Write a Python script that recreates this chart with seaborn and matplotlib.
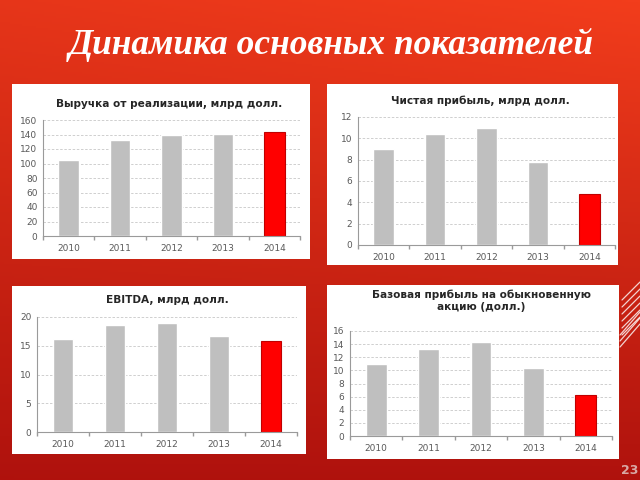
import numpy as np
import pandas as pd
import matplotlib
matplotlib.use("Agg")
import matplotlib.pyplot as plt
from matplotlib.patches import Rectangle
from matplotlib.lines import Line2D
import seaborn as sns

years = ["2010", "2011", "2012", "2013", "2014"]
revenue = [105, 133, 139, 141, 144]
net_profit = [9.0, 10.4, 11.0, 7.8, 4.75]
ebitda = [16.1, 18.6, 19.0, 16.7, 15.9]
eps = [10.9, 13.3, 14.4, 10.4, 6.3]

titles = ["Выручка от реализации, млрд долл.",
          "Чистая прибыль, млрд долл.",
          "EBITDA, млрд долл.",
          "Базовая прибыль на обыкновенную\nакцию (долл.)"]
slide_title = "Динамика основных показателей"
page_no = "23"

sns.set_theme(style="white")
plt.rcParams['font.family'] = ['DejaVu Sans']

W, H = 640, 480
fig = plt.figure(figsize=(6.4, 4.8), dpi=100)

# background gradient
bg = fig.add_axes([0, 0, 1, 1])
yy, xx = np.mgrid[0:1:240j, 0:1:320j]
t = np.clip(0.85 * yy + 0.15 * (1 - xx) * (1 - yy), 0, 1)
c0 = np.array([0.95, 0.24, 0.11])
c1 = np.array([0.64, 0.04, 0.04])
img = c0[None, None, :] * (1 - t[..., None]) + c1[None, None, :] * t[..., None]
bg.imshow(img, aspect="auto", extent=[0, 1, 0, 1], origin="upper")
bg.set_axis_off()

def fx(px):
    return px / W

def fy(py):
    return 1 - py / H

# white panels (x0, y0, x1, y1) in px
panels = [(12, 84, 310, 259), (327, 84, 618, 265), (12, 286, 306, 454), (327, 285, 619, 459)]
for x0, y0, x1, y1 in panels:
    fig.patches.append(Rectangle((fx(x0), fy(y1)), fx(x1 - x0), (y1 - y0) / H,
                                 transform=fig.transFigure, facecolor="white",
                                 edgecolor="none", zorder=1))

# axes rects: left, top, right, bottom in px
axes_px = [(43, 120, 300, 236), (358, 117, 615, 245), (37, 317, 297, 432), (350, 331, 612, 436)]
datasets = [revenue, net_profit, ebitda, eps]
ylims = [(0, 160, 20), (0, 12, 2), (0, 20, 5), (0, 16, 2)]
title_y = [104, 101, 300, 301]

for i, (vals, (l, t_, r, b)) in enumerate(zip(datasets, axes_px)):
    ax = fig.add_axes([fx(l), fy(b), fx(r - l), (b - t_) / H])
    ax.set_zorder(2)
    df = pd.DataFrame({"year": years, "value": vals})
    df["grp"] = ["hi" if y == "2014" else "base" for y in years]
    sns.barplot(data=df, x="year", y="value", hue="grp",
                palette={"base": "#bfbfbf", "hi": "#ff0000"},
                width=0.4, dodge=False, legend=False, ax=ax, saturation=1)
    for p in ax.patches:
        if p.get_facecolor()[1] < 0.1:
            p.set_edgecolor("#c00000")
            p.set_linewidth(0.8)
    lo, hi, st = ylims[i]
    ax.set_ylim(lo, hi)
    ax.set_yticks(np.arange(lo, hi + st / 2, st))
    ax.set_xlim(-0.5, 4.5)
    ax.set_xticks(np.arange(-0.5, 5, 1), minor=True)
    ax.yaxis.grid(True, color="#c8c8c8", linestyle=(0, (3, 2)), linewidth=0.6)
    ax.set_axisbelow(True)
    ax.set_facecolor("none")
    for s in ["top", "right"]:
        ax.spines[s].set_visible(False)
    for s in ["left", "bottom"]:
        ax.spines[s].set_color("#9a9a9a")
        ax.spines[s].set_linewidth(0.8)
    ax.tick_params(axis="both", labelsize=6.5, colors="#595959", length=0, pad=4)
    ax.tick_params(axis="x", pad=6)
    ax.tick_params(axis="x", which="minor", length=3, color="#9a9a9a", direction="out",
                   bottom=True)
    ax.set_xlabel("")
    ax.set_ylabel("")
    x0, y0, x1, y1 = panels[i]
    cx = (x0 + x1) / 2 + 8
    fig.text(fx(cx), fy(title_y[i]), titles[i], ha="center", va="center",
             fontsize=7.6, fontweight="bold", color="#262626", zorder=3,
             linespacing=1.2)

fig.text(fx(331), fy(45), slide_title, ha="center", va="center",
         fontsize=25.5, fontweight="bold", style="italic", color="white",
         family=["Liberation Serif", "DejaVu Serif"])
fig.text(fx(630), fy(470), page_no, ha="center", va="center",
         fontsize=9, fontweight="bold", color="#d8a8a4")

# decorative lines at right
for k in range(6):
    off = k * 7
    fig.lines.append(Line2D([fx(622), fx(640)], [fy(300 + off), fy(282 + off)],
                            transform=fig.transFigure, color="white",
                            alpha=0.8, linewidth=0.9, zorder=4))
for k in range(3):
    off = k * 6
    fig.lines.append(Line2D([fx(620), fx(640)], [fy(335 + off), fy(312 + off)],
                            transform=fig.transFigure, color="white",
                            alpha=0.8, linewidth=0.9, zorder=4))

fig.savefig("out.png", dpi=100)
